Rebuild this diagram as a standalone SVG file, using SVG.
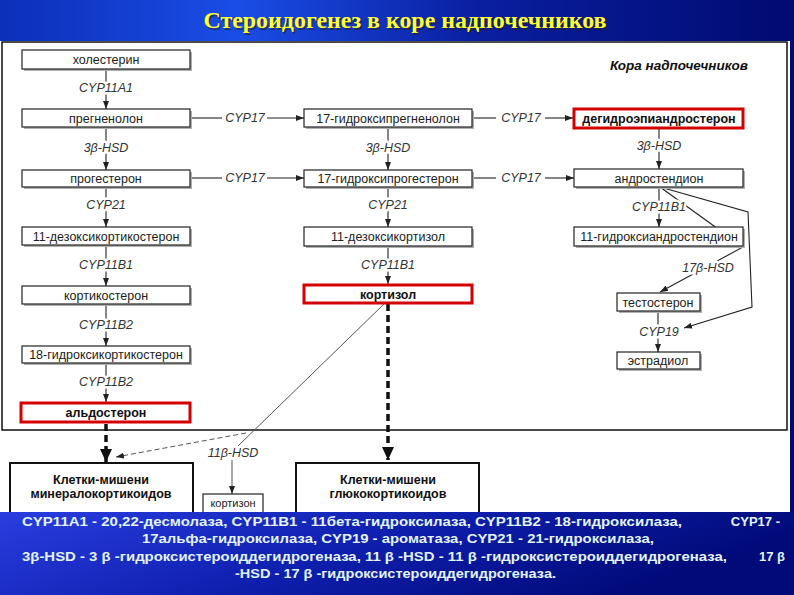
<svg xmlns="http://www.w3.org/2000/svg" width="794" height="595" viewBox="0 0 794 595">
<defs>
<linearGradient id="gTop" x1="0" y1="0" x2="1" y2="0">
<stop offset="0" stop-color="#0c2fb8"/>
<stop offset="0.3" stop-color="#1a4de6"/>
<stop offset="0.6" stop-color="#0a1fa0"/>
<stop offset="1" stop-color="#000a70"/>
</linearGradient>
<linearGradient id="gBot" x1="0" y1="0" x2="1" y2="0.3">
<stop offset="0" stop-color="#2a3ee0"/>
<stop offset="0.5" stop-color="#1020b0"/>
<stop offset="1" stop-color="#000a78"/>
</linearGradient>
<marker id="a" markerUnits="userSpaceOnUse" markerWidth="8" markerHeight="6" refX="8" refY="3" orient="auto">
<path d="M0,0 L8,3 L0,6 z" fill="#222"/>
</marker>
<marker id="A" markerUnits="userSpaceOnUse" markerWidth="13" markerHeight="12" refX="13" refY="6" orient="auto">
<path d="M0,0 L13,6 L0,12 z" fill="#111"/>
</marker>
<style>
.box{fill:#fff;stroke:#222;stroke-width:1.2}
.sh{fill:#b0b0b0}
.red{fill:#fff;stroke:#d40000;stroke-width:3}
.t{font-family:"Liberation Sans",Arial,sans-serif;font-size:12.5px;fill:#222;text-anchor:middle}
.b{font-weight:bold;fill:#111}
.enz{font-family:"Liberation Sans",Arial,sans-serif;font-size:12.5px;font-style:italic;fill:#333;text-anchor:middle;paint-order:stroke;stroke:#fff;stroke-width:5px;stroke-linejoin:round}
.ln{stroke:#222;stroke-width:1.1;fill:none}
.thin{stroke:#555;stroke-width:1;fill:none}
.thick{stroke:#111;stroke-width:3.5;stroke-dasharray:7 4;fill:none}
.ft{font-family:"Liberation Sans",Arial,sans-serif;font-size:13px;font-weight:bold;fill:#e2f4ff}
</style>
</defs>

<rect x="0" y="0" width="794" height="595" fill="url(#gTop)"/>
<text x="405" y="28" font-family="'Liberation Serif','Times New Roman',serif" font-size="24" font-weight="bold" fill="#202020" text-anchor="middle" textLength="403" lengthAdjust="spacingAndGlyphs" opacity="0.6" transform="translate(1.5,1.5)">Стероидогенез в коре надпочечников</text>
<text x="405" y="28" font-family="'Liberation Serif','Times New Roman',serif" font-size="24" font-weight="bold" fill="#ffff33" text-anchor="middle" textLength="403" lengthAdjust="spacingAndGlyphs">Стероидогенез в коре надпочечников</text>

<rect x="0" y="41" width="790" height="472" fill="#fff"/>
<rect x="2" y="42" width="785" height="388" fill="none" stroke="#111" stroke-width="1.5"/>
<text x="748" y="70" class="t b" style="text-anchor:end;font-style:italic;font-size:13.5px">Кора надпочечников</text>

<g id="connectors">
<line class="ln" x1="106" y1="69" x2="106" y2="109" marker-end="url(#a)"/>
<line class="ln" x1="106" y1="127" x2="106" y2="170" marker-end="url(#a)"/>
<line class="ln" x1="106" y1="187" x2="106" y2="227" marker-end="url(#a)"/>
<line class="ln" x1="106" y1="245" x2="106" y2="286" marker-end="url(#a)"/>
<line class="ln" x1="106" y1="304" x2="106" y2="346" marker-end="url(#a)"/>
<line class="ln" x1="106" y1="363" x2="106" y2="402" marker-end="url(#a)"/>
<line class="ln" x1="388" y1="127" x2="388" y2="170" marker-end="url(#a)"/>
<line class="ln" x1="388" y1="187" x2="388" y2="227" marker-end="url(#a)"/>
<line class="ln" x1="388" y1="246" x2="388" y2="284" marker-end="url(#a)"/>
<line class="ln" x1="659" y1="128" x2="659" y2="169" marker-end="url(#a)"/>
<line class="ln" x1="659" y1="187" x2="659" y2="227" marker-end="url(#a)"/>
<line class="ln" x1="658" y1="311" x2="658" y2="352" marker-end="url(#a)"/>
<polyline class="ln" points="660,187 743,247 660,292" marker-end="url(#a)"/>
<polyline class="ln" points="660,187 748,212 752,307 684,328" marker-end="url(#a)"/>
<line class="ln" x1="190" y1="118" x2="222" y2="118"/>
<line class="ln" x1="267" y1="118" x2="304" y2="118" marker-end="url(#a)"/>
<line class="ln" x1="190" y1="178" x2="222" y2="178"/>
<line class="ln" x1="267" y1="178" x2="304" y2="178" marker-end="url(#a)"/>
<line class="ln" x1="472" y1="118" x2="496" y2="118"/>
<line class="ln" x1="545" y1="118" x2="573" y2="118" marker-end="url(#a)"/>
<line class="ln" x1="472" y1="178" x2="496" y2="178"/>
<line class="ln" x1="545" y1="178" x2="574" y2="178" marker-end="url(#a)"/>
<line class="thick" x1="106" y1="424" x2="106" y2="462" marker-end="url(#A)"/>
<line class="thick" x1="388" y1="304" x2="388" y2="460" marker-end="url(#A)"/>
<line class="thin" x1="384" y1="304" x2="238" y2="446"/>
<line class="thin" x1="246" y1="433" x2="116" y2="457" stroke-dasharray="5 3" marker-end="url(#a)"/>
<line class="thin" x1="232" y1="460" x2="232" y2="494" marker-end="url(#a)"/>
</g>

<g id="labels">
<text class="enz" x="106" y="92">CYP11A1</text>
<text class="enz" x="106" y="152">3β-HSD</text>
<text class="enz" x="106" y="209">CYP21</text>
<text class="enz" x="106" y="269">CYP11B1</text>
<text class="enz" x="106" y="329">CYP11B2</text>
<text class="enz" x="106" y="386">CYP11B2</text>
<text class="enz" x="388" y="152">3β-HSD</text>
<text class="enz" x="388" y="209">CYP21</text>
<text class="enz" x="388" y="269">CYP11B1</text>
<text class="enz" x="659" y="150">3β-HSD</text>
<text class="enz" x="659" y="211">CYP11B1</text>
<text class="enz" x="708" y="272">17β-HSD</text>
<text class="enz" x="659" y="336">CYP19</text>
<text class="enz" x="245" y="122">CYP17</text>
<text class="enz" x="245" y="182">CYP17</text>
<text class="enz" x="521" y="122">CYP17</text>
<text class="enz" x="521" y="182">CYP17</text>
<text class="enz" x="233" y="457">11β-HSD</text>
</g>

<g id="n-cholesterol"><rect class="sh" x="24" y="52" width="168" height="19"/><rect class="box" x="22" y="50" width="168" height="19"/><text class="t" x="106" y="64">холестерин</text></g>
<g id="n-pregnenolone"><rect class="sh" x="24" y="111" width="168" height="18"/><rect class="box" x="22" y="109" width="168" height="18"/><text class="t" x="106" y="122.5">прегненолон</text></g>
<g id="n-progesterone"><rect class="sh" x="24" y="172" width="168" height="17"/><rect class="box" x="22" y="170" width="168" height="17"/><text class="t" x="106" y="183">прогестерон</text></g>
<g id="n-doc"><rect class="sh" x="24" y="229" width="168" height="18"/><rect class="box" x="22" y="227" width="168" height="18"/><text class="t" x="106" y="240.5">11-дезоксикортикостерон</text></g>
<g id="n-corticosterone"><rect class="sh" x="24" y="288" width="168" height="18"/><rect class="box" x="22" y="286" width="168" height="18"/><text class="t" x="106" y="299.5">кортикостерон</text></g>
<g id="n-18oh"><rect class="sh" x="24" y="348" width="168" height="17"/><rect class="box" x="22" y="346" width="168" height="17"/><text class="t" x="106" y="359">18-гидроксикортикостерон</text></g>
<g id="n-aldosterone"><rect class="red" x="21" y="403" width="169" height="19"/><text class="t b" x="106" y="417">альдостерон</text></g>

<g id="n-17ohpreg"><rect class="sh" x="306" y="111" width="168" height="18"/><rect class="box" x="304" y="109" width="168" height="18"/><text class="t" x="388" y="122.5">17-гидроксипрегненолон</text></g>
<g id="n-17ohprog"><rect class="sh" x="306" y="172" width="168" height="17"/><rect class="box" x="304" y="170" width="168" height="17"/><text class="t" x="388" y="183">17-гидроксипрогестерон</text></g>
<g id="n-11deoxycortisol"><rect class="sh" x="306" y="229" width="168" height="19"/><rect class="box" x="304" y="227" width="168" height="19"/><text class="t" x="388" y="241">11-дезоксикортизол</text></g>
<g id="n-cortisol"><rect class="red" x="304" y="285" width="168" height="18"/><text class="t b" x="388" y="298.5">кортизол</text></g>

<g id="n-dhea"><rect class="red" x="574" y="109" width="169" height="19"/><text class="t b" x="659" y="123">дегидроэпиандростерон</text></g>
<g id="n-androstenedione"><rect class="sh" x="576" y="171" width="169" height="18"/><rect class="box" x="574" y="169" width="169" height="18"/><text class="t" x="659" y="182.5">андростендион</text></g>
<g id="n-11ohandro"><rect class="sh" x="576" y="229" width="169" height="19"/><rect class="box" x="574" y="227" width="169" height="19"/><text class="t" x="659" y="241">11-гидроксиандростендион</text></g>
<g id="n-testosterone"><rect class="sh" x="619" y="295" width="83" height="18"/><rect class="box" x="617" y="293" width="83" height="18"/><text class="t" x="658" y="306.5">тестостерон</text></g>
<g id="n-estradiol"><rect class="sh" x="619" y="354" width="83" height="17"/><rect class="box" x="617" y="352" width="83" height="17"/><text class="t" x="658" y="365">эстрадиол</text></g>

<g id="n-mineral"><rect x="10" y="463" width="183" height="60" fill="#fff" stroke="#111" stroke-width="2"/><text class="t b" x="101" y="484">Клетки-мишени</text><text class="t b" x="101" y="498">минералокортикоидов</text></g>
<g id="n-gluco"><rect x="296" y="463" width="183" height="60" fill="#fff" stroke="#111" stroke-width="2"/><text class="t b" x="388" y="484">Клетки-мишени</text><text class="t b" x="388" y="498">глюкокортикоидов</text></g>
<g id="n-cortisone"><rect x="203" y="494" width="60" height="25" fill="#fff" stroke="#222" stroke-width="1.2"/><text class="t" x="233" y="507" style="font-size:11px">кортизон</text></g>

<rect x="0" y="512" width="794" height="83" fill="url(#gBot)"/>
<g id="footer">
<text class="ft" x="22" y="526" textLength="660" lengthAdjust="spacingAndGlyphs">CYP11A1 - 20,22-десмолаза, CYP11B1 - 11бета-гидроксилаза, CYP11B2 - 18-гидроксилаза,</text>
<text class="ft" x="780" y="526" text-anchor="end">CYP17 -</text>
<text class="ft" x="398" y="543" text-anchor="middle" textLength="512" lengthAdjust="spacingAndGlyphs">17альфа-гидроксилаза, CYP19 - ароматаза, CYP21 - 21-гидроксилаза,</text>
<text class="ft" x="22" y="561" textLength="705" lengthAdjust="spacingAndGlyphs">3β-HSD - 3 β -гидроксистероиддегидрогеназа, 11 β -HSD - 11 β -гидроксистероиддегидрогеназа,</text>
<text class="ft" x="785" y="561" text-anchor="end">17 β</text>
<text class="ft" x="235" y="578" textLength="321" lengthAdjust="spacingAndGlyphs">-HSD - 17 β -гидроксистероиддегидрогеназа.</text>
</g>
</svg>
